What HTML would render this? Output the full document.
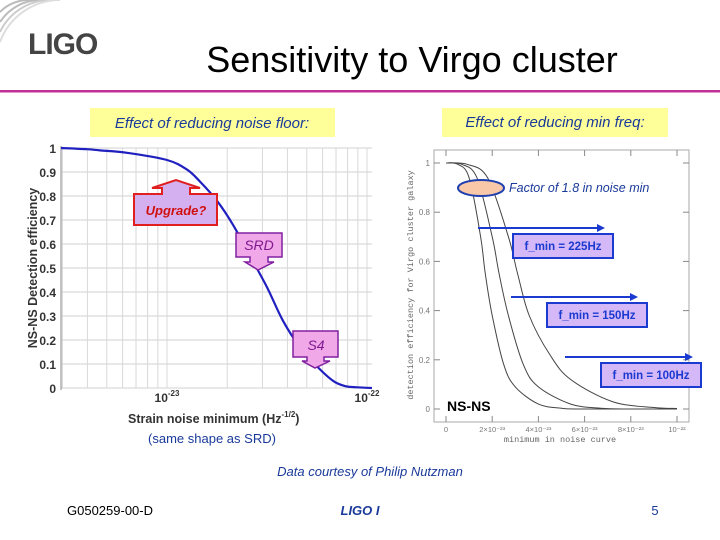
<!DOCTYPE html>
<html><head><meta charset="utf-8"><style>
html,body{margin:0;padding:0;background:#fff;}
svg{display:block;font-family:"Liberation Sans",sans-serif;}
</style></head><body>
<svg id="s" width="720" height="540" viewBox="0 0 720 540" xmlns="http://www.w3.org/2000/svg">
<g>
<path d="M0,12 A40,40 0 0 1 30,0" fill="none" stroke="#bbb" stroke-width="2"/>
<path d="M0,22 A48,48 0 0 1 40,0" fill="none" stroke="#bbb" stroke-width="2"/>
<path d="M0,32 A56,56 0 0 1 50,0" fill="none" stroke="#ccc" stroke-width="2"/>
<path d="M0,42 A64,64 0 0 1 60,0" fill="none" stroke="#ddd" stroke-width="2"/>
<text x="28" y="54" font-size="30" font-weight="bold" fill="#444" letter-spacing="-1">LIGO</text>
</g>
<text x="412" y="72" font-size="36" text-anchor="middle" fill="#000">Sensitivity to Virgo cluster</text>
<rect x="0" y="90" width="720" height="2.5" fill="#c0309a"/>
<rect x="90" y="108" width="245" height="29" fill="#ffff99"/>
<text x="212" y="128" font-size="15" font-style="italic" fill="#1a3a9a" text-anchor="middle">Effect of reducing noise floor:</text>
<rect x="442" y="108" width="226" height="29" fill="#ffff99"/>
<text x="555" y="127" font-size="15" font-style="italic" fill="#1a3a9a" text-anchor="middle">Effect of reducing min freq:</text>

<g id="left"></g>
<g id="right"></g>

<text x="370" y="476" font-size="13" font-style="italic" fill="#1a3a9a" text-anchor="middle">Data courtesy of Philip Nutzman</text>
<text x="67" y="515" font-size="13" fill="#000">G050259-00-D</text>
<text x="360" y="515" font-size="13" font-style="italic" font-weight="bold" fill="#1a3a9a" text-anchor="middle">LIGO I</text>
<text x="655" y="515" font-size="13" fill="#1a3a9a" text-anchor="middle">5</text>
</svg>
<script>
// Left chart data: log10(strain noise minimum) vs NS-NS detection efficiency
const leftLogH = [-23.53,-23.4,-23.335,-23.2,-23.0,-22.9,-22.835,-22.75,-22.67,-22.585,-22.5,-22.42,-22.335,-22.25,-22.17,-22.11,-22.05,-21.975];
const leftEff  = [1.0,0.995,0.99,0.98,0.95,0.91,0.86,0.78,0.68,0.55,0.42,0.28,0.17,0.09,0.03,0.008,0.003,0.0];
const leftYTicks = [0,0.1,0.2,0.3,0.4,0.5,0.6,0.7,0.8,0.9,1];
const leftYLabels = ["0","0.1","0.2","0.3","0.4","0.5","0.6","0.7","0.8","0.9","1"];
// Right chart data: noise minimum (units 1e-23) vs efficiency, three f_min curves
const rightX225 = [0,0.5,1,1.5,1.7,2,2.5,3,4,5,6,10];
const rightY225 = [1,0.995,0.94,0.7,0.55,0.38,0.18,0.09,0.02,0.003,0,0];
const rightX150 = [0,0.67,1.34,2,2.3,2.7,3.35,4,5.4,6.7,8,10];
const rightY150 = [1,0.995,0.94,0.7,0.55,0.38,0.18,0.09,0.02,0.003,0,0];
const rightX100 = [0,0.9,1.8,2.7,3.1,3.6,4.5,5.4,7.2,9,10];
const rightY100 = [1,0.995,0.94,0.7,0.55,0.38,0.22,0.12,0.03,0.006,0.002];
const rightYTicks = [0,0.2,0.4,0.6,0.8,1];
const rightYLabels = ["0","0.2","0.4","0.6","0.8","1"];
const rightXTicks = [0,2,4,6,8,10];
const rightXLabels = ["0","2×10⁻²³","4×10⁻²³","6×10⁻²³","8×10⁻²³","10⁻²²"];

const NS="http://www.w3.org/2000/svg";
function mk(parent,tag,attrs,text){const e=document.createElementNS(NS,tag);for(const k in attrs)e.setAttribute(k,attrs[k]);if(text!==undefined)e.textContent=text;parent.appendChild(e);return e;}
function smooth(pts){
  let p='M'+pts[0][0].toFixed(1)+','+pts[0][1].toFixed(1);
  for(let i=0;i<pts.length-1;i++){
    const p0=pts[Math.max(i-1,0)],p1=pts[i],p2=pts[i+1],p3=pts[Math.min(i+2,pts.length-1)];
    const c1=[p1[0]+(p2[0]-p0[0])/6,p1[1]+(p2[1]-p0[1])/6];
    const c2=[p2[0]-(p3[0]-p1[0])/6,p2[1]-(p3[1]-p1[1])/6];
    p+=`C${c1[0].toFixed(1)},${c1[1].toFixed(1)} ${c2[0].toFixed(1)},${c2[1].toFixed(1)} ${p2[0].toFixed(1)},${p2[1].toFixed(1)}`;
  }
  return p;
}

// ----- left chart -----
const L=document.getElementById('left');
const lx=v=>167+(v+23)*200, ly=v=>388-240*v;
for(let i=0;i<leftYTicks.length;i++){
  const g=mk(L,'line',{x1:61,x2:372,y1:ly(leftYTicks[i]),y2:ly(leftYTicks[i]),stroke:'#d0d0d0','stroke-width':1});
  
  
  const t=mk(L,'text',{x:56,y:ly(leftYTicks[i])+5,'font-size':12,'font-weight':'bold','text-anchor':'end',fill:'#333'},leftYLabels[i]);
  
  
}
const minors=[3e-24,4e-24,5e-24,6e-24,7e-24,8e-24,9e-24,1e-23,2e-23,3e-23,4e-23,5e-23,6e-23,7e-23,8e-23,9e-23,1e-22];
minors.forEach(m=>{const g=mk(L,'line',{x1:lx(Math.log10(m)),x2:lx(Math.log10(m)),y1:148,y2:388,stroke:'#d8d8d8','stroke-width':1});
  
  });
mk(L,'line',{x1:61,x2:61,y1:146,y2:390,stroke:'#888','stroke-width':1});
const lc=mk(L,'path',{d:smooth(leftLogH.map((v,i)=>[lx(v),ly(leftEff[i])])),fill:'none',stroke:'#2020c0','stroke-width':2.2});


const xl1=mk(L,'text',{x:167,y:402,'font-size':12,'font-weight':'bold','text-anchor':'middle',fill:'#333'});
xl1.innerHTML='10<tspan dy="-6" font-size="8">-23</tspan>';


const xl2=mk(L,'text',{x:367,y:402,'font-size':12,'font-weight':'bold','text-anchor':'middle',fill:'#333'});
xl2.innerHTML='10<tspan dy="-6" font-size="8">-22</tspan>';


const xt=mk(L,'text',{x:128,y:423,'font-size':12.5,'font-weight':'bold',fill:'#333'});
xt.innerHTML='Strain noise minimum (Hz<tspan dy="-6" font-size="8">-1/2</tspan><tspan dy="6">)</tspan>';


const yt=mk(L,'text',{x:0,y:0,'font-size':12.5,'font-weight':'bold',fill:'#333','text-anchor':'middle',transform:'translate(37,268) rotate(-90)'},'NS-NS Detection efficiency');


const ss=mk(L,'text',{x:212,y:443,'font-size':13,fill:'#1a3a9a','text-anchor':'middle'},'(same shape as SRD)');


// annotations
const up=mk(L,'g',{});


mk(up,'path',{d:'M134,194 H162 V188 H152 L176,180 L200,188 H190 V194 H217 V225 H134 Z',fill:'#d4b0f0',stroke:'#e02020','stroke-width':2});
mk(up,'text',{x:176,y:215,'font-size':13,'font-style':'italic','font-weight':'bold',fill:'#d01010','text-anchor':'middle'},'Upgrade?');
const srd=mk(L,'g',{});


mk(srd,'path',{d:'M236,233 H282 V257 H268 V262 L274,262 L258,270 L245,262 H250 V257 H236 Z',fill:'#f0a8e8',stroke:'#8020a0','stroke-width':1.5});
mk(srd,'text',{x:259,y:250,'font-size':14,'font-style':'italic',fill:'#801890','text-anchor':'middle'},'SRD');
const s4=mk(L,'g',{});


mk(s4,'path',{d:'M293,331 H338 V357 H324 V361 L330,361 L315,368 L302,361 H307 V357 H293 Z',fill:'#f0a8e8',stroke:'#8020a0','stroke-width':1.5});
mk(s4,'text',{x:316,y:350,'font-size':14,'font-style':'italic',fill:'#801890','text-anchor':'middle'},'S4');

// ----- right chart -----
const R=document.getElementById('right');
const rx=v=>446+v*23.1, ry=v=>409-246*v;
mk(R,'rect',{x:434,y:150,width:255,height:272,fill:'#fff',stroke:'#aaa','stroke-width':1});
rightYTicks.forEach((v,i)=>{
  mk(R,'line',{x1:434,x2:440,y1:ry(v),y2:ry(v),stroke:'#888'});
  mk(R,'line',{x1:683,x2:689,y1:ry(v),y2:ry(v),stroke:'#888'});
  const t=mk(R,'text',{x:430,y:ry(v)+3,'font-size':8,fill:'#777','text-anchor':'end'},rightYLabels[i]);
  
  
});
rightXTicks.forEach((v,i)=>{
  mk(R,'line',{x1:rx(v),x2:rx(v),y1:416,y2:422,stroke:'#888'});
  mk(R,'line',{x1:rx(v),x2:rx(v),y1:150,y2:156,stroke:'#888'});
  const t=mk(R,'text',{x:rx(v),y:432,'font-size':7.5,fill:'#777','text-anchor':'middle'},rightXLabels[i]);
  
  
});
const rxt=mk(R,'text',{x:560,y:442,'font-size':8.5,fill:'#666','text-anchor':'middle','font-family':'Liberation Mono, monospace'},'minimum in noise curve');


const ryt=mk(R,'text',{x:0,y:0,'font-size':8.5,fill:'#666','text-anchor':'middle','font-family':'Liberation Mono, monospace',transform:'translate(413,285) rotate(-90)'},'detection efficiency for Virgo cluster galaxy');


function curve(xs,ys,name){
  const c=mk(R,'path',{d:smooth(xs.map((v,i)=>[rx(v),ry(ys[i])])),fill:'none',stroke:'#444','stroke-width':1});
  
  }
curve(rightX225,rightY225,'curve-225hz');
curve(rightX150,rightY150,'curve-150hz');
curve(rightX100,rightY100,'curve-100hz');
const ell=mk(R,'ellipse',{cx:481,cy:188,rx:23,ry:8,fill:'#f8c8a8',stroke:'#2040b0','stroke-width':2});


const ft=mk(R,'text',{x:509,y:192,'font-size':12.5,'font-style':'italic',fill:'#1a3a9a'},'Factor of 1.8 in noise min');


function arrowBox(x1,x2,ay,bx,by,label,name){
  const g=mk(R,'g',{});
  
  
  mk(g,'line',{x1:x1,x2:x2-6,y1:ay,y2:ay,stroke:'#1a3ad0','stroke-width':2});
  mk(g,'path',{d:`M${x2},${ay} L${x2-8},${ay-4} L${x2-8},${ay+4} Z`,fill:'#1a3ad0'});
  mk(g,'rect',{x:bx,y:by,width:100,height:24,fill:'#d4b8f8',stroke:'#1a3ad0','stroke-width':2});
  mk(g,'text',{x:bx+50,y:by+16,'font-size':11.5,'font-weight':'bold',fill:'#1a3ad0','text-anchor':'middle'},label);
}
arrowBox(478,605,228,513,234,'f_min = 225Hz','fmin-225-callout');
arrowBox(511,638,297,547,303,'f_min = 150Hz','fmin-150-callout');
arrowBox(565,693,357,601,363,'f_min = 100Hz','fmin-100-callout');
const nn=mk(R,'text',{x:447,y:411,'font-size':14,'font-weight':'bold',fill:'#000'},'NS-NS');


</script>
</body></html>
